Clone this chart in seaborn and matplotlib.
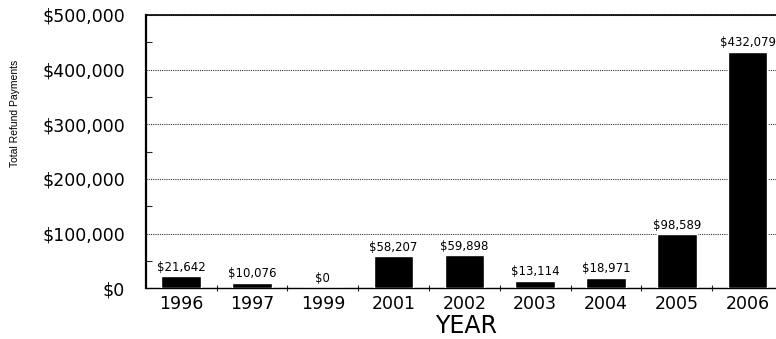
import matplotlib
matplotlib.use("Agg")
import matplotlib.pyplot as plt
from matplotlib.ticker import FuncFormatter, MultipleLocator, FixedLocator
import seaborn as sns
import pandas as pd

years = ["1996", "1997", "1999", "2001", "2002", "2003", "2004", "2005", "2006"]
refunds = [21642, 10076, 0, 58207, 59898, 13114, 18971, 98589, 432079]
y_ticks = [0, 100000, 200000, 300000, 400000, 500000]

df = pd.DataFrame({"year": years, "refund": refunds})

sns.set_theme(style="white")
plt.rcParams["font.family"] = ["DejaVu Sans"]

W, H = 776, 339
fig = plt.figure(figsize=(W / 100, H / 100), dpi=100)
ax = fig.add_axes([0.188, 0.150, 0.821, 0.806])

sns.barplot(data=df, x="year", y="refund", color="black", width=0.56,
            saturation=1, ax=ax, zorder=3)

ax.set_ylim(0, 500000)
ax.set_xlim(-0.5, len(years) - 0.5)
ax.set_yticks(y_ticks)
ax.yaxis.set_major_formatter(FuncFormatter(lambda v, p: f"${v:,.0f}"))
ax.yaxis.set_minor_locator(MultipleLocator(50000))
ax.xaxis.set_minor_locator(FixedLocator([i + 0.5 for i in range(len(years) - 1)]))

ax.grid(axis="y", which="major", linestyle=(0, (1, 1)), color="#333333",
        linewidth=0.8, zorder=0)
ax.tick_params(axis="y", which="major", direction="out", length=5, width=0.8,
               labelsize=12.5, pad=10, colors="black")
ax.tick_params(axis="y", which="minor", direction="in", length=4, width=0.8,
               left=True)
ax.tick_params(axis="x", which="major", length=0, labelsize=12.5, pad=5,
               colors="black")
ax.tick_params(axis="x", which="minor", direction="inout", length=5,
               width=0.8, bottom=True)

for side in ["left", "bottom", "top"]:
    ax.spines[side].set_visible(True)
    ax.spines[side].set_color("black")
ax.spines["left"].set_linewidth(1.6)
ax.spines["bottom"].set_linewidth(1.0)
ax.spines["top"].set_linewidth(1.2)
ax.spines["right"].set_visible(False)

for i, v in enumerate(refunds):
    ax.text(i, v + 5000, f"${v:,.0f}", ha="center", va="bottom",
            fontsize=8.5, color="black", zorder=4)

ax.set_xlabel("")
ax.set_ylabel("")
fig.text(466 / W, 1 - 326 / H, "YEAR", fontsize=17, ha="center",
         va="center", color="black")
fig.text(15 / W, 1 - 113 / H, "Total Refund Payments", rotation=90,
         fontsize=7.5, ha="center", va="center", color="black",
         family=["Liberation Sans Narrow", "Liberation Sans", "DejaVu Sans"])

fig.savefig("out.png", dpi=100, facecolor="white")
